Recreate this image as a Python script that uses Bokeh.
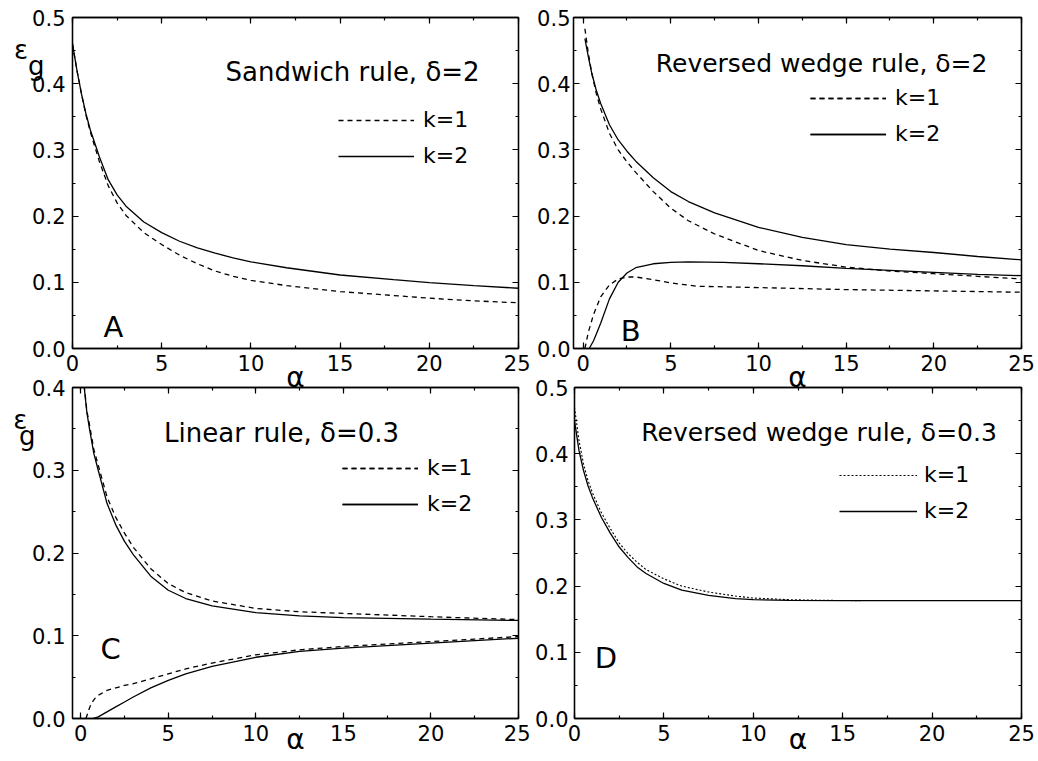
from bokeh.plotting import figure
from bokeh.models import (Label, Legend, LegendItem, LinearAxis, SingleIntervalTicker,
                          PrintfTickFormatter, Range1d, CustomJSTickFormatter, FixedTicker)
from bokeh.layouts import column, row
from bokeh.embed import file_html
from bokeh.resources import INLINE

FONT = "DejaVu Sans"

# ---------------- data ----------------
# Panel A: Sandwich rule, delta=2
a_alpha = [0, 0.25, 0.5, 0.75, 1, 1.5, 2, 2.5, 3, 4, 5, 6, 7, 8, 9, 10, 12, 15, 18, 20, 22.5, 25]
a_k1 = [0.46, 0.42, 0.385, 0.353, 0.327, 0.283, 0.246, 0.22, 0.201, 0.175, 0.157, 0.141, 0.128,
        0.117, 0.109, 0.103, 0.095, 0.086, 0.08, 0.076, 0.072, 0.069]
a_k2 = [0.46, 0.42, 0.385, 0.355, 0.33, 0.29, 0.255, 0.232, 0.215, 0.191, 0.175, 0.162, 0.152,
        0.144, 0.137, 0.131, 0.122, 0.111, 0.104, 0.0995, 0.095, 0.091]

# Panel B: Reversed wedge rule, delta=2
b_up_alpha = [0.1, 0.3, 0.5, 0.75, 1, 1.5, 2, 2.5, 3, 4, 5, 6, 7.5, 10, 12.5, 15, 17.5, 20, 22.5, 25]
b_up_k1 = [0.483, 0.445, 0.415, 0.385, 0.362, 0.325, 0.3, 0.282, 0.266, 0.237, 0.212, 0.193, 0.173,
           0.148, 0.133, 0.123, 0.117, 0.113, 0.109, 0.105]
b_up_k2 = [0.468, 0.44, 0.415, 0.39, 0.37, 0.338, 0.315, 0.298, 0.283, 0.258, 0.237, 0.222, 0.205,
           0.183, 0.168, 0.157, 0.15, 0.145, 0.139, 0.134]
b_lo_k1_alpha = [0.1, 0.3, 0.6, 1, 1.5, 2, 2.5, 3, 4, 5, 6.5, 10, 15, 20, 25]
b_lo_k1 = [0, 0.025, 0.052, 0.078, 0.096, 0.105, 0.108, 0.108, 0.104, 0.099, 0.094, 0.092, 0.089,
           0.087, 0.085]
b_lo_k2_alpha = [0.35, 0.6, 1, 1.5, 2, 2.5, 3, 4, 5, 6, 8, 10, 12.5, 15, 17.5, 20, 22.5, 25]
b_lo_k2 = [0, 0.012, 0.038, 0.075, 0.1, 0.114, 0.122, 0.128, 0.13, 0.131, 0.13, 0.128, 0.125, 0.121,
           0.118, 0.115, 0.112, 0.11]

# Panel C: Linear rule, delta=0.3
c_up_alpha = [0.1, 0.2, 0.35, 0.5, 0.75, 1, 1.5, 2, 2.5, 3, 4, 5, 6, 7.5, 10, 12.5, 15, 20, 25]
c_up_k1 = [0.435, 0.402, 0.372, 0.355, 0.325, 0.306, 0.268, 0.243, 0.224, 0.207, 0.181, 0.163, 0.152,
           0.142, 0.133, 0.129, 0.127, 0.123, 0.1195]
c_up_k2 = [0.43, 0.4, 0.37, 0.35, 0.32, 0.3, 0.26, 0.234, 0.214, 0.198, 0.172, 0.155, 0.145, 0.136,
           0.128, 0.124, 0.122, 0.12, 0.1185]
c_lo_k1_alpha = [0.3, 0.45, 0.6, 0.8, 1, 1.5, 2, 2.5, 3, 4, 5, 6, 7.5, 10, 12.5, 15, 17.5, 20, 22.5, 25]
c_lo_k1 = [0, 0.01, 0.018, 0.024, 0.028, 0.034, 0.037, 0.04, 0.042, 0.048, 0.054, 0.06, 0.067, 0.077,
           0.083, 0.087, 0.09, 0.093, 0.096, 0.099]
c_lo_k2_alpha = [0.7, 1, 1.5, 2, 2.5, 3, 4, 5, 6, 7.5, 10, 12.5, 15, 17.5, 20, 22.5, 25]
c_lo_k2 = [0, 0.002, 0.008, 0.014, 0.02, 0.026, 0.037, 0.046, 0.054, 0.063, 0.074, 0.081, 0.085,
           0.088, 0.091, 0.094, 0.097]

# Panel D: Reversed wedge rule, delta=0.3
d_k1_alpha = [0, 0.25, 0.5, 0.75, 1, 1.5, 2, 2.5, 3, 3.5, 4, 5, 6, 7.5, 9, 10, 12, 14, 16]
d_k1 = [0.47, 0.42, 0.385, 0.36, 0.341, 0.311, 0.287, 0.265, 0.249, 0.236, 0.225, 0.211, 0.2, 0.191,
        0.185, 0.182, 0.1795, 0.1785, 0.178]
d_k2_alpha = [0, 0.25, 0.5, 0.75, 1, 1.5, 2, 2.5, 3, 3.5, 4, 5, 6, 7.5, 9, 10, 12, 15, 20, 25]
d_k2 = [0.45, 0.405, 0.375, 0.352, 0.334, 0.304, 0.28, 0.259, 0.243, 0.229, 0.219, 0.204, 0.194,
        0.186, 0.181, 0.1795, 0.1785, 0.178, 0.178, 0.178]

titles = ["Sandwich rule, δ=2", "Reversed wedge rule, δ=2", "Linear rule, δ=0.3",
          "Reversed wedge rule, δ=0.3"]
letters = ["A", "B", "C", "D"]
legend_labels = ["k=1", "k=2"]
x_title = "α"
y_title = "ε"
y_title_sub = "g"

TICK_FONT = "21px"


def make_fig(xr, yr, fw, fh, bl, br, bt, bb, ystand, xlab_standoff):
    p = figure(x_range=Range1d(*xr), y_range=Range1d(*yr), frame_width=fw, frame_height=fh,
               min_border_left=bl, min_border_right=br, min_border_top=bt, min_border_bottom=bb,
               output_backend="svg", toolbar_location=None)
    p.border_fill_alpha = 0
    p.background_fill_color = "white"
    p.grid.visible = False
    p.outline_line_color = "black"
    p.outline_line_width = 1.3
    xt = SingleIntervalTicker(interval=5, num_minor_ticks=2)
    yt = SingleIntervalTicker(interval=0.1, num_minor_ticks=2)
    p.xaxis.ticker = xt
    p.yaxis.ticker = yt
    p.yaxis.formatter = PrintfTickFormatter(format="%.1f")
    blank = CustomJSTickFormatter(code="return ''")
    p.add_layout(LinearAxis(ticker=xt, formatter=blank), "above")
    p.add_layout(LinearAxis(ticker=yt, formatter=blank), "right")
    for ax in p.axis:
        ax.axis_line_width = 1.3
        ax.major_tick_in = 6
        ax.major_tick_out = 0
        ax.minor_tick_in = 3
        ax.minor_tick_out = 0
        ax.major_tick_line_width = 1.2
        ax.minor_tick_line_width = 1.2
        ax.major_label_text_font = FONT
        ax.major_label_text_color = "black"
    for ax in p.above + p.right:
        if isinstance(ax, LinearAxis):
            ax.major_label_text_font_size = "1px"
            ax.major_label_standoff = 0
    for ax in p.below:
        ax.major_label_text_font_size = TICK_FONT
        ax.major_label_standoff = 6
        ax.axis_label = x_title
        ax.axis_label_text_font = FONT
        ax.axis_label_text_font_size = "28px"
        ax.axis_label_text_font_style = "normal"
        ax.axis_label_text_color = "black"
        ax.axis_label_standoff = xlab_standoff
    for ax in p.left:
        ax.major_label_text_font_size = TICK_FONT
        ax.major_label_standoff = ystand
    return p


def add_ylabel(p, y_eps, y_sub, pad, standoff):
    # the horizontal "ε g" quantity name at the top of the left axis
    ax = LinearAxis(ticker=FixedTicker(ticks=[y_eps, y_sub], minor_ticks=[]),
                    major_label_overrides={y_eps: y_title + "\u00a0" * pad, y_sub: y_title_sub})
    ax.axis_line_color = None
    ax.major_tick_line_color = None
    ax.minor_tick_line_color = None
    ax.major_tick_in = 0
    ax.major_tick_out = 0
    ax.major_label_text_font = FONT
    ax.major_label_text_font_size = "26px"
    ax.major_label_text_color = "black"
    ax.major_label_standoff = standoff
    p.add_layout(ax, "left")


def add_text(p, x, y, text, size, align="left"):
    p.add_layout(Label(x=x, y=y, text=text, text_font=FONT, text_font_size=size,
                       text_align=align, text_baseline="alphabetic", text_color="black"))


def add_legend(p, r1, r2, loc, glyph_w, standoff):
    leg = Legend(items=[LegendItem(label=legend_labels[0], renderers=r1),
                        LegendItem(label=legend_labels[1], renderers=r2)],
                 location=loc, border_line_alpha=0, background_fill_alpha=0, padding=0, margin=0,
                 spacing=11, glyph_width=glyph_w, glyph_height=20, label_height=20,
                 label_standoff=standoff, label_text_font=FONT, label_text_font_size="22px",
                 label_text_baseline="middle", label_text_color="black")
    p.add_layout(leg)


LW = 1.3
DASH = "5 4"
TOP_BB = 52

# ---- Panel A ----  (canvas: 530 wide, frame at x 72..518, y 17..348)
pa = make_fig((0, 25), (0, 0.5), 446, 331, 72, 12, 17, TOP_BB, 7, -13)
ra1 = pa.line(a_alpha, a_k1, line_color="black", line_width=LW, line_dash=DASH)
ra2 = pa.line(a_alpha, a_k2, line_color="black", line_width=LW)
add_legend(pa, [ra1], [ra2], (266, 180), 76, 9)
add_text(pa, 15.7, 0.418, titles[0], "26px", "center")
add_text(pa, 2.3, 0.033, letters[0], "29px", "center")
add_ylabel(pa, 0.4515, 0.426, 2, -15)

# ---- Panel B ----  (canvas x 530..1035)
pb = make_fig((-0.55, 25), (0, 0.5), 448, 331, 43, 14, 17, TOP_BB, 3, -13)
rb1 = pb.line(b_up_alpha, b_up_k1, line_color="black", line_width=LW, line_dash=DASH)
rb1b = pb.line(b_lo_k1_alpha, b_lo_k1, line_color="black", line_width=LW, line_dash=DASH)
rb2 = pb.line(b_up_alpha, b_up_k2, line_color="black", line_width=LW)
rb2b = pb.line(b_lo_k2_alpha, b_lo_k2, line_color="black", line_width=LW)
add_legend(pb, [rb1, rb1b], [rb2, rb2b], (237, 202), 76, 9)
add_text(pb, 13.6, 0.4305, titles[1], "25px", "center")
add_text(pb, 2.71, 0.027, letters[1], "29px", "center")

# ---- Panel C ----  (canvas y 377..760)
pc = make_fig((-0.47, 25), (0, 0.4), 446, 331, 72, 12, 10, 42, 7, -21)
rc1 = pc.line(c_up_alpha, c_up_k1, line_color="black", line_width=LW, line_dash=DASH)
rc1b = pc.line(c_lo_k1_alpha, c_lo_k1, line_color="black", line_width=LW, line_dash=DASH)
rc2 = pc.line(c_up_alpha, c_up_k2, line_color="black", line_width=LW)
rc2b = pc.line(c_lo_k2_alpha, c_lo_k2, line_color="black", line_width=LW)
add_legend(pc, [rc1, rc1b], [rc2, rc2b], (270, 202), 76, 9)
add_text(pc, 11.47, 0.3448, titles[2], "26px", "center")
add_text(pc, 1.71, 0.0837, letters[2], "29px", "center")
add_ylabel(pc, 0.3608, 0.3408, 1, -6)

# ---- Panel D ----
pd_ = make_fig((0, 25), (0, 0.5), 447, 331, 44, 14, 10, 42, 6, -21)
rd1 = pd_.line(d_k1_alpha, d_k1, line_color="black", line_width=1.1, line_dash="2 2")
rd2 = pd_.line(d_k2_alpha, d_k2, line_color="black", line_width=LW)
add_legend(pd_, [rd1], [rd2], (265, 195), 78, 7)
add_text(pd_, 13.68, 0.432, titles[3], "25px", "center")
add_text(pd_, 1.76, 0.092, letters[3], "29px", "center")

overlap = 377 - (17 + 331 + TOP_BB)
pc.margin = (overlap, 0, 0, 0)
pd_.margin = (overlap, 0, 0, 0)

layout = column(row(pa, pb), row(pc, pd_))
open("out.html", "w").write(file_html(layout, INLINE))
